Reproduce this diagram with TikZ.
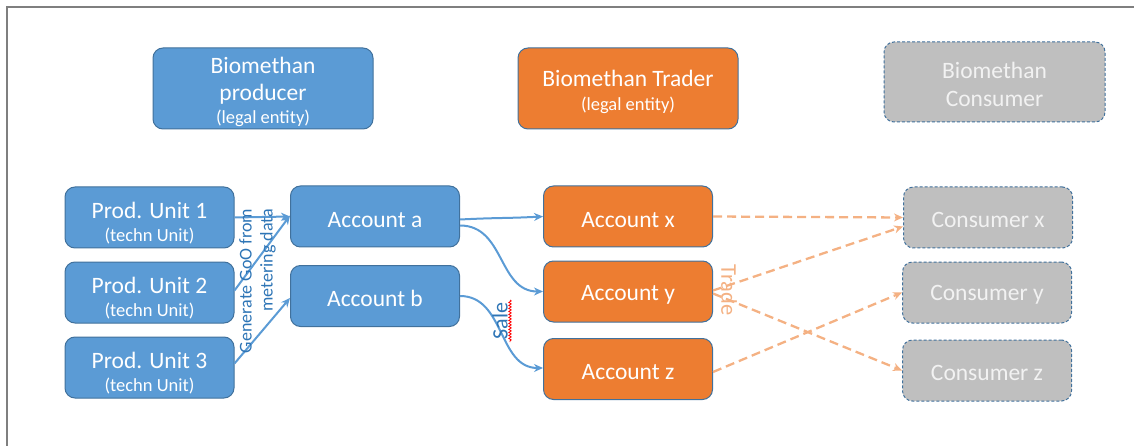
\documentclass[tikz,border=0pt]{standalone}
\usepackage{fontspec}
\setmainfont{Carlito}
\usetikzlibrary{arrows.meta,decorations.pathmorphing}
\definecolor{bfill}{HTML}{5B9BD5}
\definecolor{bdraw}{HTML}{41719C}
\definecolor{ofill}{HTML}{ED7D31}
\definecolor{gfill}{HTML}{BFBFBF}
\definecolor{gtext}{HTML}{F2F2F2}
\definecolor{lorange}{HTML}{F4B183}
\definecolor{ltblue}{HTML}{2E75B6}
\definecolor{framec}{HTML}{7F7F7F}
\tikzset{
  box/.style={rounded corners=10pt, line width=1pt, inner sep=0pt, align=center, text=white},
  bluebox/.style={box, fill=bfill, draw=bdraw},
  orangebox/.style={box, fill=ofill, draw=bdraw},
  graybox/.style={box, fill=gfill, draw=bdraw, dashed, dash pattern=on 3pt off 2pt, text=gtext},
  big/.style={font=\fontsize{23.5}{28}\selectfont},
  unitbox/.style={minimum width=169pt, minimum height=61pt},
  legalbox/.style={minimum width=220pt, minimum height=81pt},
  solidarr/.style={draw=bfill, line width=2pt, -{Stealth[length=9pt,width=8pt]}},
  dasharr/.style={draw=lorange, line width=2.3pt, dash pattern=on 9pt off 5pt, -{Stealth[length=9pt,width=8pt]}},
}
\newcommand{\smalltxt}[1]{{\fontsize{18.5}{22}\selectfont #1}}
\newcommand{\dn}[1]{\rule{0pt}{\dimexpr\fontcharht\font`d+#1\relax}}
\begin{document}
\begin{tikzpicture}[x=1pt,y=-1pt]
\useasboundingbox (0,0) rectangle (1134,446);
\draw[framec, line width=1.5pt] (7,446) coordinate (fl) -- (7,7) coordinate (ft) -- (1134,7) coordinate (fr);

% legal entities
\node[bluebox, legalbox, big] (prod) at (263,88.5) {\dn{7pt}Biomethan\\[-1pt]producer\\[-5pt]\smalltxt{(legal entity)}};
\node[orangebox, legalbox, big] (trader) at (628,88.5) {\dn{7pt}Biomethan Trader\\[-4pt]\smalltxt{(legal entity)}};
\node[graybox, minimum width=221pt, minimum height=80pt, big] (cons) at (994.5,82) {\dn{4pt}Biomethan\\Consumer};

% production units
\node[bluebox, unitbox, big] (p1) at (149.5,217.5) {\dn{12pt}Prod. Unit 1\\[-5pt]\smalltxt{(techn Unit)}};
\node[bluebox, unitbox, big] (p2) at (149.5,292.5) {\dn{12pt}Prod. Unit 2\\[-5pt]\smalltxt{(techn Unit)}};
\node[bluebox, unitbox, big] (p3) at (149.5,367.5) {\dn{12pt}Prod. Unit 3\\[-5pt]\smalltxt{(techn Unit)}};

% accounts
\node[bluebox, unitbox, big] (aa) at (375,216.5) {\dn{5pt}Account a};
\node[bluebox, unitbox, big] (ab) at (375,296) {\dn{5pt}Account b};
\node[orangebox, unitbox, big] (ax) at (628,216.5) {\dn{5pt}Account x};
\node[orangebox, unitbox, big] (ay) at (628,291.5) {\dn{5pt}Account y};
\node[orangebox, unitbox, big] (az) at (628,369) {\dn{5pt}Account z};

% consumers
\node[graybox, unitbox, big] (cx) at (988,217.5) {\dn{4pt}Consumer x};
\node[graybox, unitbox, big] (cy) at (987,292.5) {\dn{4pt}Consumer y};
\node[graybox, unitbox, big] (cz) at (987,370.5) {\dn{4pt}Consumer z};

% production arrows
\draw[solidarr] (p1.east) -- (aa.west);
\draw[solidarr] ([yshift=2pt]p2.east) -- ([yshift=1pt]aa.west);
\draw[solidarr] ([yshift=4pt]p3.east) -- ([yshift=-2pt]ab.west);
\node[rotate=90, align=right, text=ltblue, font=\fontsize{18}{21}\selectfont] (gen) at (257.5,281) {Generate GoO from\\metering data};

% sale arrows
\draw[solidarr] ([yshift=-3pt]aa.east) .. controls +(40,-2) and +(-40,2) .. (ax.west);
\draw[solidarr] ([yshift=-9pt]aa.east) .. controls +(45,0) and +(-45,0) .. (ay.west);
\draw[solidarr] (ab.east) .. controls +(45,0) and +(-45,0) .. ([yshift=1pt]az.west);
\node[rotate=90, text=ltblue, font=\fontsize{22}{26}\selectfont] (sale) at (500,321) {Sale};
\draw[red, line width=0.8pt, decorate, decoration={snake, amplitude=1.2pt, segment length=3pt}] (510,300) coordinate (wa) -- (510,342) coordinate (wb);

% trade arrows
\draw[dasharr] (ax.east) -- (cx.west);
\draw[dasharr] ([yshift=1pt]ay.east) -- ([yshift=-9pt]cx.west);
\draw[dasharr] ([yshift=-2pt]ay.east) -- (cz.west);
\draw[dasharr] ([yshift=-3pt]az.east) -- (cy.west);
\node[rotate=-90, text=lorange, font=\fontsize{22.5}{26}\selectfont] (trade) at (729,290) {Trade};
\end{tikzpicture}
\end{document}
